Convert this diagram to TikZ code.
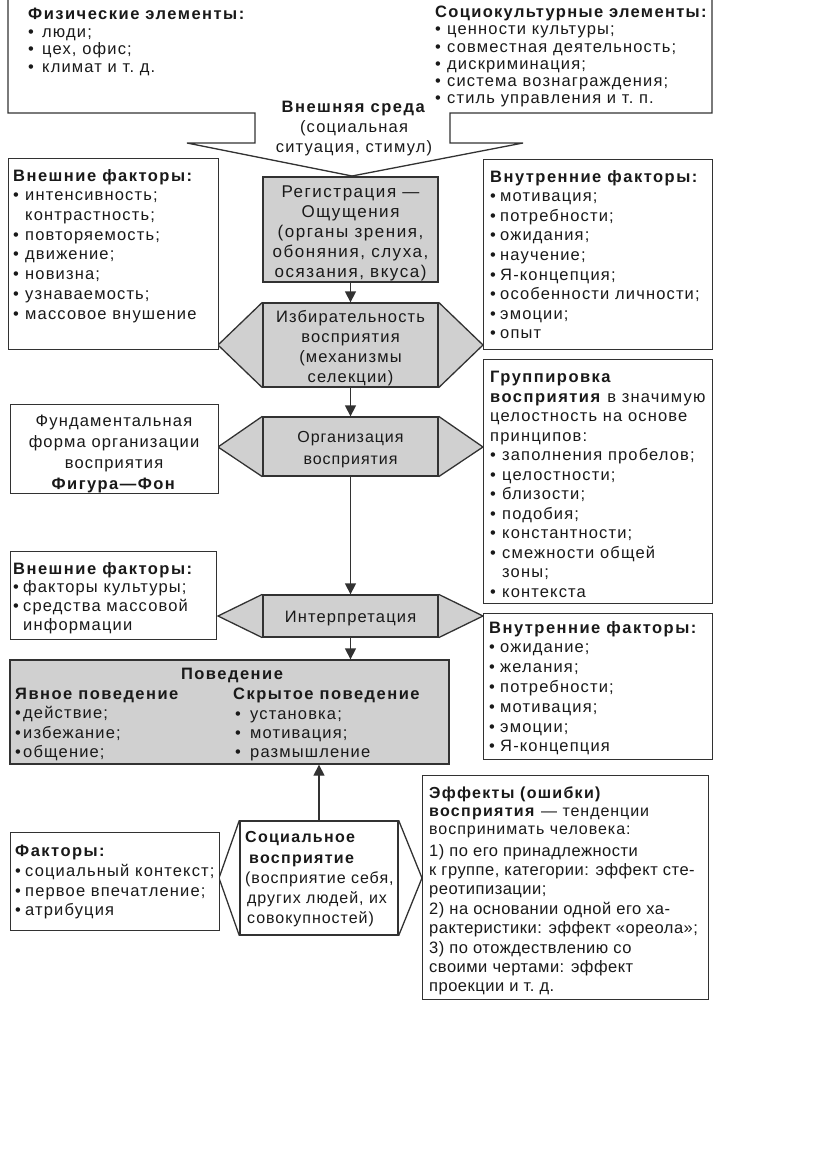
\documentclass[tikz,border=0pt]{standalone}
\usepackage{fontspec}
\setmainfont{Liberation Sans}[LetterSpace=7,BoldFeatures={LetterSpace=9}]
\newfontfamily\narrowf{Liberation Sans}[LetterSpace=6,BoldFeatures={LetterSpace=8}]
\newfontfamily\regf{Liberation Sans}[LetterSpace=9,BoldFeatures={LetterSpace=9}]
\newfontfamily\plainf{Liberation Sans}[LetterSpace=3]
\usetikzlibrary{arrows.meta,backgrounds}
\definecolor{ln}{RGB}{50,50,50}
\definecolor{fg}{RGB}{208,208,208}
\newcommand{\bul}[1][10pt]{\makebox[#1][l]{•}}
\newcommand{\ind}[1][10pt]{\hspace*{#1}}
\begin{document}
\begin{tikzpicture}[x=1pt,y=-1pt,
  every node/.style={inner sep=0pt, text=black!90, font=\fontsize{16.5}{19.7}\selectfont},
  box/.style={draw=ln, line width=1.3pt, fill=white},
  gbox/.style={draw=ln, line width=1.3pt, fill=fg},
  ctext/.style={align=center, yshift=-3.5pt},
  tri/.style={draw=ln, line width=1.3pt, fill=fg, line join=miter},
  wtri/.style={draw=ln, line width=1.3pt, fill=white, line join=miter},
  txt/.style={anchor=north west, align=left},
  arr/.style={draw=ln, line width=1.3pt, -{Triangle[length=11pt,width=11pt]}}]
\useasboundingbox (0,0) rectangle (816,1164);

% top outline (environment)
\draw[draw=ln, line width=1.3pt, line join=miter]
  (8,-3) -- (8,113) -- (255,113) -- (255,143) -- (187,143) -- (352,176)
  -- (523,143) -- (450,143) -- (450,113) -- (712,113) -- (712,-3);
\node[txt, font=\fontsize{16.5}{17.5}\selectfont] (phys) at (28,8) {\textbf{Физические элементы:}\\\bul[14pt]люди;\\\bul[14pt]цех, офис;\\\bul[14pt]климат и т.~д.};
\node[txt, font=\fontsize{16.5}{17.2}\selectfont] (soccult) at (435,6) {{\narrowf\textbf{Социокультурные элементы:}}\\\bul[12pt]ценности культуры;\\\bul[12pt]совместная деятельность;\\\bul[12pt]дискриминация;\\\bul[12pt]система вознаграждения;\\\bul[12pt]стиль управления и т.~п.};
\node[align=center, font=\fontsize{16.5}{20}\selectfont] (env) at (354,129) {\textbf{Внешняя среда}\\(социальная\\ситуация, стимул)};

% central column
\node[gbox, minimum width=175pt, minimum height=105pt] (reg) at (350.5,229.5) {};
\node[ctext, font=\regf\fontsize{17}{20}\selectfont] (regT) at (reg.center) {Регистрация —\\Ощущения\\(органы зрения,\\обоняния, слуха,\\осязания, вкуса)};
\node[gbox, minimum width=175pt, minimum height=84pt] (sel) at (350.5,345) {};
\node[ctext, font=\fontsize{16.5}{20}\selectfont] (selT) at (sel.center) {Избирательность\\восприятия\\(механизмы\\селекции)};
\node[gbox, minimum width=175pt, minimum height=59pt] (org) at (350.5,446.5) {};
\node[ctext, font=\narrowf\fontsize{16}{22}\selectfont] (orgT) at (org.center) {Организация\\восприятия};
\node[gbox, minimum width=175pt, minimum height=42pt] (int) at (350.5,616) {};
\node[ctext, yshift=1pt] (intT) at (int.center) {Интерпретация};
\node[gbox, minimum width=439pt, minimum height=104pt] (beh) at (229.5,712) {};
\node[box, minimum width=158pt, minimum height=114pt] (soc) at (319,878) {};

\coordinate (selL) at (218,345);  \coordinate (selR) at (483,345);
\coordinate (orgL) at (218,447);  \coordinate (orgR) at (483,447);
\coordinate (intL) at (218,616);  \coordinate (intR) at (483,616);
\coordinate (socL) at (219,878);  \coordinate (socR) at (422,878);
\begin{scope}[on background layer]
\path[tri] (sel.north west) -- (selL) -- (sel.south west);
\path[tri] (sel.north east) -- (selR) -- (sel.south east);
\path[tri] (org.north west) -- (orgL) -- (org.south west);
\path[tri] (org.north east) -- (orgR) -- (org.south east);
\path[tri] (int.north west) -- (intL) -- (int.south west);
\path[tri] (int.north east) -- (intR) -- (int.south east);
\path[wtri] (soc.north west) -- (socL) -- (soc.south west);
\path[wtri] (soc.north east) -- (socR) -- (soc.south east);
\end{scope}

% behaviour text
\node[font=\fontsize{16.5}{19.7}\selectfont\bfseries] (behT) at (232,675) {Поведение};
\node[txt, font=\fontsize{16.5}{19.3}\selectfont] (behL) at (15,688) {\textbf{Явное поведение}\\\bul[8pt]действие;\\\bul[8pt]избежание;\\\bul[8pt]общение;};
\node[txt, font=\fontsize{16.5}{19.3}\selectfont] (behR) at (233,688) {\textbf{Скрытое поведение}\\\ind[2pt]\bul[15pt]установка;\\\ind[2pt]\bul[15pt]мотивация;\\\ind[2pt]\bul[15pt]размышление};

% social perception text
\node[txt, font=\narrowf\fontsize{16}{20.25}\selectfont] (socT) at (245,831.5) {\textbf{Социальное}\\\ind[4pt]\textbf{восприятие}\\(восприятие себя,\\\ind[2pt]других людей, их\\\ind[2pt]совокупностей)};

% side boxes
\node[box, anchor=north west, minimum width=210pt, minimum height=191pt] (L1) at (8,158) {};
\node[txt] (L1t) at (13,169) {\textbf{Внешние факторы:}\\\bul[12pt]интенсивность;\\\ind[12pt]контрастность;\\\bul[12pt]повторяемость;\\\bul[12pt]движение;\\\bul[12pt]новизна;\\\bul[12pt]узнаваемость;\\\bul[12pt]массовое внушение};

\node[box, anchor=north west, minimum width=229pt, minimum height=190pt] (R1) at (483,159) {};
\node[txt, font=\fontsize{16.5}{19.6}\selectfont] (R1t) at (490,170) {\textbf{Внутренние факторы:}\\\bul мотивация;\\\bul потребности;\\\bul ожидания;\\\bul научение;\\\bul Я-концепция;\\\bul особенности личности;\\\bul эмоции;\\\bul опыт};

\node[box, anchor=north west, minimum width=208pt, minimum height=89pt] (L2) at (10,404) {};
\node[align=center, font=\fontsize{16.5}{20.7}\selectfont] (L2t) at (114,454) {Фундаментальная\\форма организации\\восприятия\\\textbf{Фигура—Фон}};

\node[box, anchor=north west, minimum width=229pt, minimum height=244pt] (R2) at (483,359) {};
\node[txt, font=\fontsize{16.5}{19.5}\selectfont] (R2t) at (490,371) {\textbf{Группировка}\\\textbf{восприятия} в значимую\\целостность на основе\\принципов:\\\bul[12pt]заполнения пробелов;\\\bul[12pt]целостности;\\\bul[12pt]близости;\\\bul[12pt]подобия;\\\bul[12pt]константности;\\\bul[12pt]смежности общей\\\ind[12pt]зоны;\\\bul[12pt]контекста};

\node[box, anchor=north west, minimum width=206pt, minimum height=88pt] (L3) at (10,551) {};
\node[txt, font=\fontsize{16.5}{18.7}\selectfont] (L3t) at (13,562) {\textbf{Внешние факторы:}\\\bul факторы культуры;\\\bul средства массовой\\\ind информации};

\node[box, anchor=north west, minimum width=229pt, minimum height=146pt] (R3) at (483,613) {};
\node[txt, font=\fontsize{16.5}{19.8}\selectfont] (R3t) at (489,621) {\textbf{Внутренние факторы:}\\\bul[11pt]ожидание;\\\bul[11pt]желания;\\\bul[11pt]потребности;\\\bul[11pt]мотивация;\\\bul[11pt]эмоции;\\\bul[11pt]Я-концепция};

\node[box, anchor=north west, minimum width=209pt, minimum height=98pt] (F) at (10,832) {};
\node[txt] (Ft) at (15,845) {\textbf{Факторы:}\\\bul социальный контекст;\\\bul первое впечатление;\\\bul атрибуция};

\node[box, anchor=north west, minimum width=286pt, minimum height=224pt] (E) at (422,775) {};
\node[txt, font=\narrowf\fontsize{16}{18}\selectfont] (EtA) at (429,787) {\textbf{Эффекты (ошибки)}\\\textbf{восприятия} — тенденции\\воспринимать человека:};
\node[txt, font=\plainf\fontsize{16.5}{19.4}\selectfont] (EtB) at (429,844) {1) по его принадлежности\\к группе, категории: эффект сте-\\реотипизации;\\2) на основании одной его ха-\\рактеристики: эффект «ореола»;\\3) по отождествлению со\\своими чертами: эффект\\проекции и т.~д.};

% arrows
\draw[arr] (reg.south) -- (sel.north);
\draw[arr] (sel.south) -- (org.north);
\draw[arr] (org.south) -- (int.north);
\draw[arr] (int.south) -- (int.south |- beh.north);
\draw[arr] (soc.north) -- (soc.north |- beh.south);
\end{tikzpicture}
\end{document}
